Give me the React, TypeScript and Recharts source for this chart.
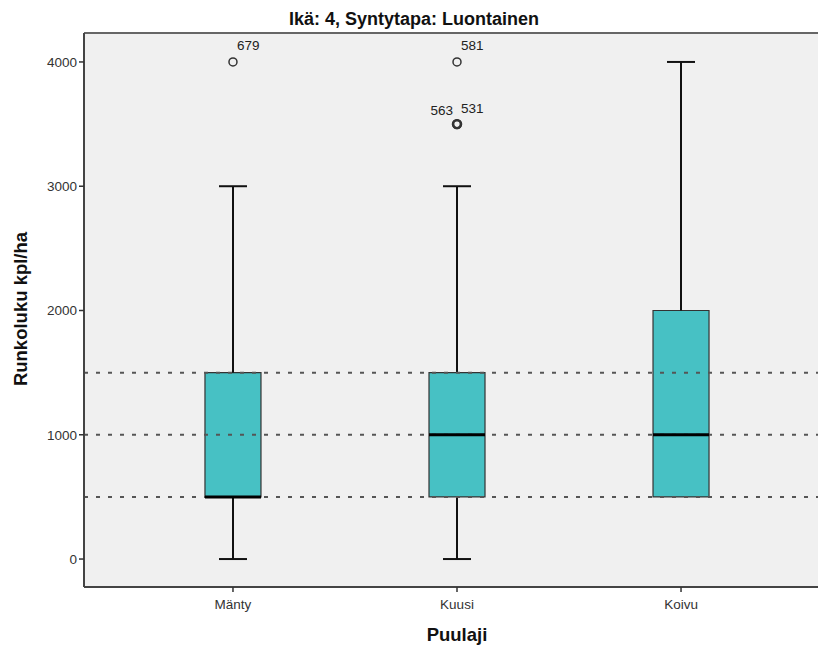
import React from 'react';
import {
  ComposedChart,
  XAxis,
  YAxis,
  ReferenceArea,
  ReferenceLine,
  Scatter,
} from 'recharts';

// Tree species (x categories) and their box-plot summaries, stems per hectare
const species = ['Mänty', 'Kuusi', 'Koivu'];
const whiskerLow = [0, 0, 500];
const quartile1 = [500, 500, 500];
const medians = [500, 1000, 1000];
const quartile3 = [1500, 1500, 2000];
const whiskerHigh = [3000, 3000, 4000];

// Outlying observations: species index (1-based), value, case id
const outlierSpecies = [1, 2, 2, 2];
const outlierValues = [4000, 4000, 3500, 3500];
const outlierIds = ['679', '581', '563', '531'];

// Horizontal dotted guide lines
const guideValues = [500, 1000, 1500];

const yTicks = [0, 1000, 2000, 3000, 4000];
const xTicks = species.map((_, i) => i + 1);

const X_DOMAIN: [number, number] = [0.335, 3.665];
const Y_DOMAIN: [number, number] = [-225, 4233];
const BOX_HALF = 0.125;
const CAP_HALF = 0.0625;

const FONT = '"Liberation Sans", Arial, sans-serif';
const BOX_FILL = '#47C1C4';
const PLOT_BG = '#F0F0F0';
const WHISKER_W = 2;

const boxes = species.map((name, i) => ({
  name,
  pos: i + 1,
  low: whiskerLow[i],
  q1: quartile1[i],
  med: medians[i],
  q3: quartile3[i],
  high: whiskerHigh[i],
}));

const outlierRows = outlierValues.map((value, i) => {
  // when several cases share a point, earlier ids are written on the left
  const later = outlierValues.some(
    (v, j) => j > i && v === value && outlierSpecies[j] === outlierSpecies[i]
  );
  return {
    pos: outlierSpecies[i],
    value,
    id: outlierIds[i],
    side: later ? 'left' : 'right',
    stacked: outlierValues.some(
      (v, j) => j !== i && v === value && outlierSpecies[j] === outlierSpecies[i]
    ),
  };
});

const OutlierMark = (props: any) => {
  const { cx, cy, payload } = props;
  if (cx == null || cy == null) return null;
  const left = payload.side === 'left';
  return (
    <g>
      <circle
        cx={cx}
        cy={cy}
        r={4}
        fill="none"
        stroke="#333"
        strokeWidth={payload.stacked ? 2.4 : 1.5}
      />
      <text
        x={left ? cx - 4 : cx + 4}
        y={left ? cy - 9.5 : cy - 11.5}
        textAnchor={left ? 'end' : 'start'}
        fontFamily={FONT}
        fontSize={13.5}
        fill="#222"
      >
        {payload.id}
      </text>
    </g>
  );
};

export default function App() {
  return (
    <div
      style={{
        position: 'fixed',
        left: 0,
        top: 0,
        width: 818,
        height: 648,
        overflow: 'hidden',
        background: '#fff',
      }}
    >
      <ComposedChart
        width={850}
        height={648}
        margin={{ top: 33, right: 20, bottom: 0, left: 0 }}
      >
        <XAxis
          type="number"
          dataKey="pos"
          domain={X_DOMAIN}
          allowDataOverflow
          ticks={xTicks}
          tickFormatter={(v: number) => species[v - 1] ?? ''}
          height={61}
          tickSize={5}
          tickMargin={7}
          tick={{ fontFamily: FONT, fontSize: 13.5, fill: '#333' }}
          tickLine={{ stroke: '#333', strokeWidth: 1.5 }}
          axisLine={{ stroke: '#444', strokeWidth: 2 }}
        />
        <YAxis
          type="number"
          domain={Y_DOMAIN}
          allowDataOverflow
          ticks={yTicks}
          width={84}
          tickSize={5}
          tick={{ fontFamily: FONT, fontSize: 13.5, fill: '#333' }}
          tickLine={{ stroke: '#333', strokeWidth: 1.5 }}
          axisLine={{ stroke: '#444', strokeWidth: 2 }}
        />

        {/* plot background */}
        <ReferenceArea
          x1={X_DOMAIN[0]}
          x2={X_DOMAIN[1]}
          y1={Y_DOMAIN[0]}
          y2={Y_DOMAIN[1]}
          fill={PLOT_BG}
          fillOpacity={1}
          stroke="none"
          ifOverflow="visible"
        />
        <ReferenceLine y={Y_DOMAIN[1]} stroke="#666" strokeWidth={2} ifOverflow="visible" />

        {/* whiskers and caps */}
        {boxes.map((b) => (
          <React.Fragment key={`w-${b.name}`}>
            <ReferenceLine
              segment={[{ x: b.pos, y: b.q3 }, { x: b.pos, y: b.high }]}
              stroke="#111"
              strokeWidth={WHISKER_W}
              ifOverflow="visible"
            />
            <ReferenceLine
              segment={[{ x: b.pos - CAP_HALF, y: b.high }, { x: b.pos + CAP_HALF, y: b.high }]}
              stroke="#111"
              strokeWidth={WHISKER_W}
              ifOverflow="visible"
            />
            {b.low < b.q1 && (
              <ReferenceLine
                segment={[{ x: b.pos, y: b.low }, { x: b.pos, y: b.q1 }]}
                stroke="#111"
                strokeWidth={WHISKER_W}
                ifOverflow="visible"
              />
            )}
            {b.low < b.q1 && (
              <ReferenceLine
                segment={[{ x: b.pos - CAP_HALF, y: b.low }, { x: b.pos + CAP_HALF, y: b.low }]}
                stroke="#111"
                strokeWidth={WHISKER_W}
                ifOverflow="visible"
              />
            )}
          </React.Fragment>
        ))}

        {/* interquartile boxes */}
        {boxes.map((b) => (
          <ReferenceArea
            key={`b-${b.name}`}
            x1={b.pos - BOX_HALF}
            x2={b.pos + BOX_HALF}
            y1={b.q1}
            y2={b.q3}
            fill={BOX_FILL}
            fillOpacity={1}
            stroke="#333"
            strokeWidth={1.2}
            ifOverflow="visible"
          />
        ))}

        {/* dotted guides */}
        {guideValues.map((v) => (
          <ReferenceLine
            key={`g-${v}`}
            y={v}
            stroke="#555"
            strokeWidth={2}
            strokeDasharray="4 8"
            ifOverflow="visible"
          />
        ))}

        {/* medians */}
        {boxes.map((b) => (
          <ReferenceLine
            key={`m-${b.name}`}
            segment={[{ x: b.pos - BOX_HALF, y: b.med }, { x: b.pos + BOX_HALF, y: b.med }]}
            stroke="#000"
            strokeWidth={3}
            ifOverflow="visible"
          />
        ))}

        <Scatter
          data={outlierRows}
          dataKey="value"
          isAnimationActive={false}
          shape={OutlierMark}
        />
      </ComposedChart>

      <svg
        width={818}
        height={648}
        style={{ position: 'absolute', left: 0, top: 0, pointerEvents: 'none' }}
      >
        <text
          x={414}
          y={25}
          textAnchor="middle"
          fontFamily='"Liberation Sans Narrow", "Arial Narrow", "Liberation Sans", sans-serif'
          fontWeight="bold"
          fontSize={18}
          fill="#111"
        >
          Ikä: 4, Syntytapa: Luontainen
        </text>
        <text
          x={0}
          y={0}
          transform="translate(27,309) rotate(-90)"
          textAnchor="middle"
          fontFamily={FONT}
          fontWeight="bold"
          fontSize={18.5}
          fill="#111"
        >
          Runkoluku kpl/ha
        </text>
        <text
          x={457}
          y={641}
          textAnchor="middle"
          fontFamily={FONT}
          fontWeight="bold"
          fontSize={18.5}
          fill="#111"
        >
          Puulaji
        </text>
      </svg>
    </div>
  );
}
